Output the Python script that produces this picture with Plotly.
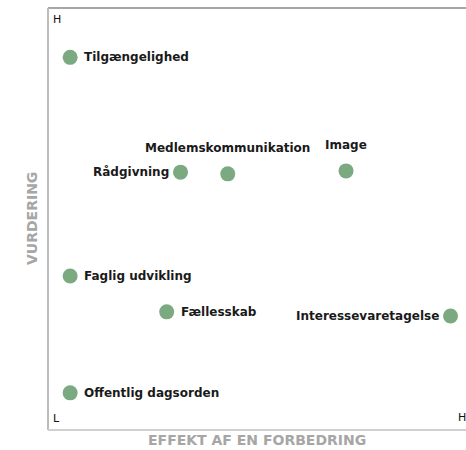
import plotly.graph_objects as go

labels = ["Tilgængelighed", "Rådgivning", "Medlemskommunikation", "Image",
          "Faglig udvikling", "Fællesskab", "Interessevaretagelse", "Offentlig dagsorden"]
effekt = [0.53, 3.17, 4.30, 7.13, 0.53, 2.84, 9.63, 0.53]
vurdering = [8.83, 6.11, 6.07, 6.14, 3.65, 2.80, 2.70, 0.88]
label_side = ["right", "left", "top", "top", "right", "right", "left", "right"]

fig = go.Figure()
fig.add_trace(go.Scatter(
    x=effekt, y=vurdering, mode="markers",
    marker=dict(size=15, color="#7BAA80"),
    cliponaxis=False, hoverinfo="skip", showlegend=False,
))

lab_font = dict(family="DejaVu Sans", size=12, color="#1a1a1a", weight="bold")
annotations = []
for t, x, y, side in zip(labels, effekt, vurdering, label_side):
    a = dict(text=t, x=x, y=y, xref="x", yref="y", showarrow=False, font=lab_font,
             yanchor="middle")
    if side == "right":
        a.update(xanchor="left", xshift=12)
    elif side == "left":
        a.update(xanchor="right", xshift=-10)
    else:
        a.update(xanchor="center", yshift=26)
    annotations.append(a)

fig.update_xaxes(range=[0, 10], showgrid=False, zeroline=False, showticklabels=False,
                 ticks="", showline=False, fixedrange=True, visible=False)
fig.update_yaxes(range=[0, 10], showgrid=False, zeroline=False, showticklabels=False,
                 ticks="", showline=False, fixedrange=True, visible=False)

shapes = [
    dict(type="line", xref="paper", yref="paper", x0=0, x1=1.05, y0=1, y1=1,
         line=dict(color="#a6a6a6", width=2), layer="below"),
    dict(type="line", xref="paper", yref="paper", x0=0, x1=0, y0=0, y1=1,
         line=dict(color="#bcbcbc", width=2), layer="below"),
    dict(type="line", xref="paper", yref="paper", x0=0, x1=1.05, y0=0, y1=0,
         line=dict(color="#d0d0d0", width=2), layer="below"),
]

ann_font = dict(family="DejaVu Sans", size=11, color="#111111")
annotations += [
    dict(text="H", xref="paper", yref="paper", x=0, y=1, xanchor="left", yanchor="top",
         xshift=3, yshift=-3, showarrow=False, font=ann_font),
    dict(text="L", xref="paper", yref="paper", x=0, y=0, xanchor="left", yanchor="bottom",
         xshift=3, yshift=3, showarrow=False, font=ann_font),
    dict(text="H", xref="paper", yref="paper", x=1, y=0, xanchor="right", yanchor="bottom",
         xshift=2, yshift=4, showarrow=False, font=ann_font),
    dict(text="EFFEKT AF EN FORBEDRING", xref="paper", yref="paper", x=0.5, y=0,
         xanchor="center", yanchor="middle", yshift=-10, showarrow=False,
         font=dict(family="DejaVu Sans", size=14, color="#a6a6a6", weight="bold")),
    dict(text="VURDERING", xref="paper", yref="paper", x=0, y=0.5, textangle=-90,
         xanchor="center", yanchor="middle", xshift=-16, showarrow=False,
         font=dict(family="DejaVu Sans", size=14, color="#a6a6a6", weight="bold")),
]

fig.update_layout(
    width=466, height=450,
    margin=dict(l=48, r=0, t=8, b=20, pad=0),
    plot_bgcolor="rgba(0,0,0,0)", paper_bgcolor="white",
    shapes=shapes, annotations=annotations,
)

fig.write_html("out.html", config={"displayModeBar": False, "staticPlot": True},
               post_script="document.body.style.margin='0';document.body.style.overflow='hidden';")
